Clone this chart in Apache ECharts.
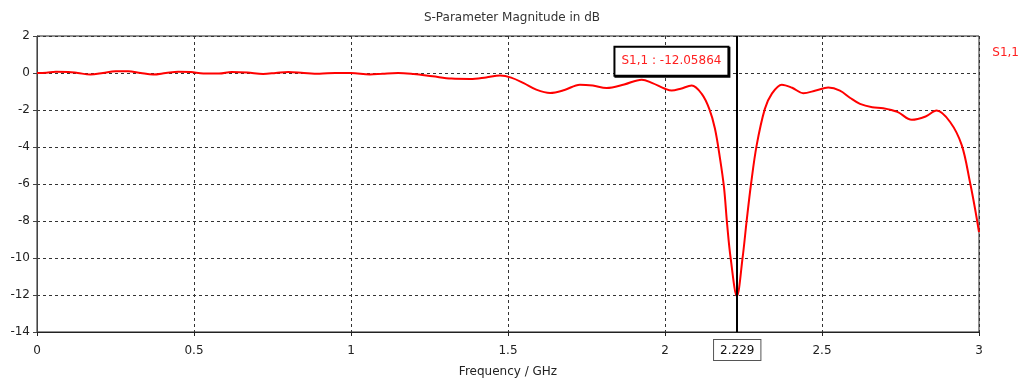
<!DOCTYPE html>
<html>
<head>
<meta charset="utf-8">
<script src="https://cdn.jsdelivr.net/npm/echarts@6/dist/echarts.min.js"></script>
<style>
  html, body { margin: 0; padding: 0; background: #fff; }
  #chart { width: 1024px; height: 383px; }
</style>
</head>
<body>
<div id="chart"></div>
<script>
// Reflection coefficient S1,1 (dB) versus frequency (GHz)
const freqGHz = [
  0, 0.03, 0.06, 0.1, 0.13, 0.17, 0.21, 0.25, 0.29, 0.33,
  0.37, 0.41, 0.45, 0.49, 0.53, 0.58, 0.62, 0.67, 0.72, 0.76,
  0.8, 0.85, 0.9, 0.95, 1.0, 1.06, 1.1, 1.15, 1.2, 1.26,
  1.32, 1.38, 1.43, 1.475, 1.51, 1.55, 1.59, 1.634, 1.68, 1.729,
  1.77, 1.814, 1.87, 1.926, 1.96, 2.0, 2.021, 2.05, 2.085, 2.117,
  2.141, 2.159, 2.175, 2.188, 2.198, 2.209, 2.229, 2.247, 2.26, 2.274,
  2.292, 2.318, 2.34, 2.372, 2.405, 2.44, 2.48, 2.52, 2.557, 2.59,
  2.621, 2.66, 2.695, 2.74, 2.786, 2.83, 2.865, 2.908, 2.945, 2.971,
  2.987, 3.0
];
const s11dB = [
  0, 0.02, 0.07, 0.06, 0.0, -0.08, 0.0, 0.1, 0.1, 0.0,
  -0.08, 0.0, 0.07, 0.05, -0.03, -0.03, 0.06, 0.03, -0.05, 0.0,
  0.06, 0.0, -0.04, 0.0, 0.0, -0.08, -0.04, 0.0, -0.06, -0.18,
  -0.3, -0.32, -0.24, -0.14, -0.25, -0.55, -0.9, -1.08, -0.92, -0.63,
  -0.68, -0.81, -0.62, -0.36, -0.55, -0.85, -0.95, -0.85, -0.68, -1.13,
  -1.94, -3.0, -4.6, -6.2, -8.2, -10.0, -12.05864, -10.0, -8.0, -6.0,
  -3.9, -1.94, -1.13, -0.63, -0.8, -1.09, -0.95, -0.79, -0.95, -1.35,
  -1.67, -1.85, -1.9, -2.1, -2.53, -2.35, -2.03, -2.65, -3.9, -5.88,
  -7.3, -8.6
];

const seriesName = 'S1,1';
const markerFreq = 2.229;
const markerValue = s11dB[freqGHz.indexOf(markerFreq)];

const FONT = 'DejaVu Sans';

const chart = echarts.init(document.getElementById('chart'), null, { renderer: 'canvas' });

chart.setOption({
  animation: false,
  backgroundColor: '#ffffff',
  textStyle: { fontFamily: FONT },
  title: {
    text: 'S-Parameter Magnitude in dB',
    left: 'center',
    top: 7,
    textStyle: { fontFamily: FONT, fontSize: 12, fontWeight: 'normal', color: '#333' }
  },
  legend: {
    data: [seriesName],
    right: 0,
    top: 41,
    icon: 'none',
    itemWidth: 0,
    itemGap: 0,
    textStyle: { fontFamily: FONT, fontSize: 12, color: '#ff2020', padding: 0 }
  },
  grid: {
    left: 37, right: 45, top: 36, bottom: 50,
    show: true,
    borderColor: '#222',
    borderWidth: 1
  },
  xAxis: {
    type: 'value',
    min: 0, max: 3, interval: 0.5,
    name: 'Frequency / GHz',
    nameLocation: 'middle',
    nameGap: 34,
    nameTextStyle: { fontFamily: FONT, fontSize: 12, color: '#222' },
    axisLine: { show: true, onZero: false, lineStyle: { color: '#222', width: 1 } },
    axisTick: { show: true, length: 4, lineStyle: { color: '#222' } },
    axisLabel: { fontFamily: FONT, fontSize: 12, color: '#222', margin: 13 },
    splitLine: { show: true, lineStyle: { color: '#333', type: [3, 3], width: 1 } }
  },
  yAxis: {
    type: 'value',
    min: -14, max: 2, interval: 2,
    axisLine: { show: true, onZero: false, lineStyle: { color: '#444', width: 1 } },
    axisTick: { show: true, length: 4, lineStyle: { color: '#444' } },
    axisLabel: { fontFamily: FONT, fontSize: 12, color: '#222', margin: 7 },
    splitLine: { show: true, lineStyle: { color: '#333', type: [3, 3], width: 1 } }
  },
  series: [{
    name: seriesName,
    type: 'line',
    data: freqGHz.map((f, i) => [f, s11dB[i]]),
    showSymbol: false,
    smooth: 0.35,
    lineStyle: { color: '#ff0000', width: 2 },
    itemStyle: { color: '#ff0000' },
    z: 3,
    markLine: {
      silent: true,
      symbol: ['none', 'none'],
      animation: false,
      lineStyle: { color: '#000', width: 2, type: 'solid' },
      label: {
        show: true,
        position: 'start',
        distance: 8,
        formatter: String(markerFreq),
        fontFamily: FONT,
        fontSize: 12,
        color: '#111',
        backgroundColor: '#fff',
        borderColor: '#555',
        borderWidth: 1,
        padding: [5, 6, 3, 6]
      },
      data: [{ xAxis: markerFreq }]
    },
    markPoint: {
      silent: true,
      symbol: 'rect',
      symbolSize: 1,
      itemStyle: { color: 'rgba(0,0,0,0)' },
      label: {
        show: true,
        position: 'left',
        distance: 9,
        formatter: seriesName + ' : ' + markerValue.toFixed(5),
        fontFamily: FONT,
        fontSize: 12,
        color: '#ff2020',
        backgroundColor: '#fff',
        borderColor: '#000',
        borderWidth: 2,
        padding: [8, 6, 7, 6],
        shadowColor: '#000',
        shadowOffsetX: 1,
        shadowOffsetY: 1,
        shadowBlur: 0
      },
      data: [{ coord: [markerFreq, 0.63] }]
    }
  }]
});
</script>
</body>
</html>
